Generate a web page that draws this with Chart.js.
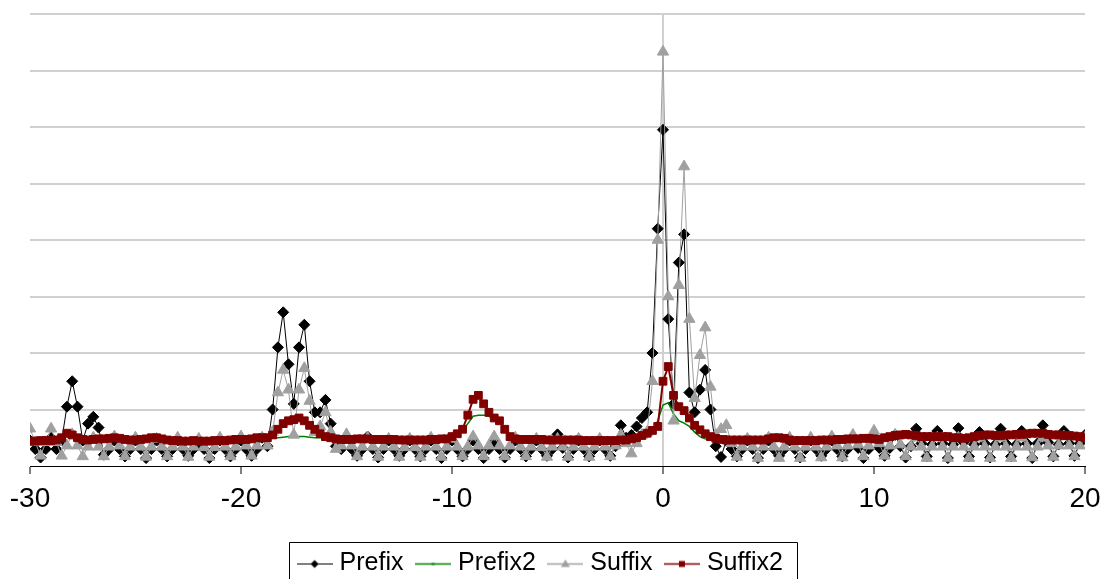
<!DOCTYPE html>
<html>
<head>
<meta charset="utf-8">
<script src="https://cdn.jsdelivr.net/npm/chart.js@4"></script>
<style>
  html, body { margin: 0; padding: 0; background: #fff; overflow: hidden; }
  #chart { display: block; }
</style>
</head>
<body>
<canvas id="chart" width="1102" height="590"></canvas>
<script>
// ===========================
// Data
// ===========================

const xValues = [
  -30,-29.75,-29.5,-29.25, -29,-28.75,-28.5,-28.25,
  -28,-27.75,-27.5,-27.25, -27,-26.75,-26.5,-26.25,
  -26,-25.75,-25.5,-25.25, -25,-24.75,-24.5,-24.25,
  -24,-23.75,-23.5,-23.25, -23,-22.75,-22.5,-22.25,
  -22,-21.75,-21.5,-21.25, -21,-20.75,-20.5,-20.25,
  -20,-19.75,-19.5,-19.25, -19,-18.75,-18.5,-18.25,
  -18,-17.75,-17.5,-17.25, -17,-16.75,-16.5,-16.25,
  -16,-15.75,-15.5,-15.25, -15,-14.75,-14.5,-14.25,
  -14,-13.75,-13.5,-13.25, -13,-12.75,-12.5,-12.25,
  -12,-11.75,-11.5,-11.25, -11,-10.75,-10.5,-10.25,
  -10,-9.75,-9.5,-9.25, -9,-8.75,-8.5,-8.25,
  -8,-7.75,-7.5,-7.25, -7,-6.75,-6.5,-6.25,
  -6,-5.75,-5.5,-5.25, -5,-4.75,-4.5,-4.25,
  -4,-3.75,-3.5,-3.25, -3,-2.75,-2.5,-2.25,
  -2,-1.75,-1.5,-1.25, -1,-0.75,-0.5,-0.25,
  0,0.25,0.5,0.75, 1,1.25,1.5,1.75,
  2,2.25,2.5,2.75, 3,3.25,3.5,3.75,
  4,4.25,4.5,4.75, 5,5.25,5.5,5.75,
  6,6.25,6.5,6.75, 7,7.25,7.5,7.75,
  8,8.25,8.5,8.75, 9,9.25,9.5,9.75,
  10,10.25,10.5,10.75, 11,11.25,11.5,11.75,
  12,12.25,12.5,12.75, 13,13.25,13.5,13.75,
  14,14.25,14.5,14.75, 15,15.25,15.5,15.75,
  16,16.25,16.5,16.75, 17,17.25,17.5,17.75,
  18,18.25,18.5,18.75, 19,19.25,19.5,19.75,
  20
];

const prefix = [
  0.45,0.3,0.15,0.3, 0.5,0.3,0.45,1.05,
  1.5,1.05,0.45,0.75, 0.87,0.68,0.2,0.3,
  0.45,0.3,0.17,0.3, 0.45,0.3,0.14,0.3,
  0.45,0.3,0.17,0.3, 0.45,0.3,0.18,0.3,
  0.42,0.3,0.14,0.3, 0.45,0.3,0.17,0.3,
  0.45,0.3,0.18,0.3, 0.5,0.35,1.0,2.1,
  2.72,1.8,1.1,2.1, 2.5,1.5,0.95,0.95,
  1.17,0.75,0.35,0.3, 0.5,0.3,0.18,0.3,
  0.52,0.3,0.15,0.3, 0.45,0.3,0.18,0.3,
  0.45,0.3,0.17,0.3, 0.45,0.3,0.14,0.3,
  0.45,0.3,0.17,0.3, 0.45,0.3,0.14,0.3,
  0.42,0.3,0.15,0.3, 0.45,0.3,0.17,0.3,
  0.45,0.3,0.18,0.3, 0.56,0.32,0.15,0.3,
  0.45,0.3,0.17,0.3, 0.45,0.3,0.18,0.35,
  0.72,0.5,0.55,0.7, 0.85,0.95,2.0,4.2,
  5.95,2.6,1.1,3.6, 4.1,1.3,0.95,1.35,
  1.7,1.0,0.35,0.16, 0.45,0.3,0.17,0.3,
  0.45,0.3,0.14,0.3, 0.45,0.3,0.18,0.3,
  0.45,0.3,0.15,0.3, 0.45,0.3,0.18,0.3,
  0.45,0.3,0.17,0.3, 0.5,0.32,0.14,0.3,
  0.5,0.32,0.18,0.32, 0.55,0.35,0.15,0.35,
  0.66,0.4,0.17,0.38, 0.62,0.4,0.14,0.38,
  0.67,0.42,0.17,0.38, 0.6,0.4,0.15,0.38,
  0.66,0.4,0.17,0.38, 0.62,0.4,0.14,0.4,
  0.72,0.42,0.17,0.38, 0.62,0.4,0.18,0.4,
  0.55
];

const prefix2 = [
  0.42,0.43,0.44,0.44, 0.44,0.45,0.48,0.52,
  0.5,0.48,0.46,0.45, 0.46,0.47,0.47,0.48,
  0.48,0.47,0.46,0.45, 0.45,0.46,0.47,0.48,
  0.48,0.47,0.45,0.44, 0.44,0.44,0.44,0.44,
  0.44,0.44,0.45,0.46, 0.46,0.46,0.46,0.46,
  0.46,0.47,0.47,0.48, 0.48,0.48,0.49,0.5,
  0.51,0.52,0.52,0.52, 0.52,0.51,0.5,0.5,
  0.5,0.49,0.49,0.5, 0.5,0.5,0.5,0.5,
  0.5,0.5,0.5,0.5, 0.5,0.5,0.49,0.49,
  0.48,0.48,0.48,0.48, 0.49,0.5,0.52,0.54,
  0.56,0.58,0.62,0.75, 0.88,0.9,0.9,0.88,
  0.83,0.78,0.65,0.52, 0.48,0.47,0.47,0.46,
  0.46,0.46,0.46,0.46, 0.46,0.46,0.45,0.45,
  0.45,0.45,0.45,0.45, 0.45,0.45,0.45,0.45,
  0.45,0.45,0.46,0.48, 0.52,0.57,0.62,0.8,
  1.08,1.12,0.92,0.8, 0.76,0.7,0.6,0.52,
  0.48,0.46,0.45,0.45, 0.45,0.45,0.45,0.45,
  0.45,0.45,0.45,0.45, 0.46,0.47,0.47,0.46,
  0.45,0.45,0.45,0.45, 0.45,0.45,0.45,0.45,
  0.45,0.45,0.46,0.46, 0.46,0.46,0.47,0.47,
  0.46,0.46,0.47,0.48, 0.5,0.51,0.52,0.52,
  0.5,0.5,0.5,0.5, 0.5,0.49,0.49,0.48,
  0.48,0.48,0.49,0.5, 0.51,0.52,0.52,0.52,
  0.52,0.52,0.53,0.53, 0.53,0.54,0.55,0.55,
  0.55,0.54,0.53,0.53, 0.52,0.52,0.51,0.5,
  0.48
];

const suffix = [
  0.66,0.42,0.18,0.42, 0.66,0.42,0.18,0.36,
  0.56,0.36,0.17,0.34, 0.5,0.34,0.17,0.34,
  0.52,0.36,0.17,0.34, 0.5,0.34,0.16,0.34,
  0.48,0.34,0.17,0.34, 0.5,0.34,0.16,0.34,
  0.48,0.33,0.16,0.33, 0.5,0.34,0.17,0.34,
  0.52,0.36,0.18,0.36, 0.5,0.36,0.6,1.3,
  1.7,1.35,0.55,1.35, 1.73,1.15,0.6,0.7,
  0.95,0.6,0.3,0.36, 0.56,0.36,0.17,0.34,
  0.5,0.34,0.16,0.34, 0.48,0.34,0.16,0.33,
  0.48,0.33,0.16,0.34, 0.5,0.34,0.16,0.34,
  0.48,0.34,0.17,0.34, 0.52,0.36,0.17,0.36,
  0.52,0.36,0.17,0.36, 0.5,0.34,0.17,0.34,
  0.48,0.33,0.16,0.34, 0.48,0.34,0.16,0.34,
  0.48,0.34,0.16,0.34, 0.48,0.34,0.17,0.36,
  0.55,0.4,0.22,0.4, 0.55,0.6,1.5,4.0,
  7.33,3.0,0.8,3.2, 5.3,2.6,1.2,1.96,
  2.45,1.4,0.55,0.65, 0.72,0.4,0.16,0.34,
  0.48,0.34,0.14,0.34, 0.5,0.34,0.14,0.34,
  0.5,0.34,0.14,0.34, 0.5,0.34,0.15,0.34,
  0.52,0.36,0.15,0.36, 0.55,0.38,0.17,0.36,
  0.62,0.4,0.18,0.36, 0.55,0.38,0.17,0.34,
  0.5,0.34,0.14,0.34, 0.5,0.34,0.14,0.34,
  0.5,0.34,0.14,0.34, 0.5,0.34,0.14,0.34,
  0.5,0.34,0.14,0.34, 0.5,0.34,0.15,0.34,
  0.5,0.36,0.16,0.36, 0.52,0.36,0.17,0.36,
  0.5
];

const suffix2 = [
  0.44,0.44,0.45,0.45, 0.45,0.46,0.5,0.58,
  0.55,0.5,0.47,0.46, 0.47,0.48,0.48,0.49,
  0.5,0.49,0.47,0.46, 0.46,0.47,0.48,0.5,
  0.5,0.48,0.46,0.45, 0.45,0.44,0.44,0.45,
  0.44,0.44,0.44,0.45, 0.45,0.45,0.46,0.47,
  0.47,0.47,0.48,0.5, 0.5,0.5,0.55,0.65,
  0.75,0.8,0.82,0.85, 0.8,0.72,0.65,0.57,
  0.52,0.5,0.48,0.47, 0.47,0.47,0.48,0.48,
  0.48,0.47,0.47,0.47, 0.47,0.47,0.46,0.46,
  0.46,0.46,0.46,0.46, 0.47,0.47,0.48,0.48,
  0.52,0.57,0.65,0.9, 1.18,1.25,1.1,0.95,
  0.85,0.8,0.65,0.52, 0.48,0.47,0.47,0.47,
  0.47,0.47,0.46,0.46, 0.46,0.46,0.46,0.46,
  0.46,0.45,0.45,0.45, 0.45,0.45,0.45,0.45,
  0.46,0.46,0.48,0.5, 0.54,0.58,0.63,0.7,
  1.5,1.76,1.25,1.05, 0.98,0.85,0.72,0.64,
  0.57,0.52,0.49,0.47, 0.46,0.46,0.46,0.46,
  0.46,0.46,0.46,0.46, 0.48,0.5,0.5,0.49,
  0.46,0.45,0.45,0.45, 0.45,0.45,0.46,0.46,
  0.46,0.47,0.47,0.48, 0.48,0.48,0.49,0.49,
  0.48,0.47,0.5,0.52, 0.54,0.55,0.56,0.55,
  0.54,0.52,0.52,0.52, 0.52,0.52,0.52,0.5,
  0.5,0.49,0.5,0.52, 0.54,0.55,0.55,0.54,
  0.54,0.55,0.55,0.56, 0.56,0.57,0.58,0.58,
  0.58,0.56,0.55,0.55, 0.54,0.54,0.53,0.52,
  0.5
];

const seriesNames = ['Prefix', 'Prefix2', 'Suffix', 'Suffix2'];
const xTicks = [-30, -20, -10, 0, 10, 20];

// ===========================
// Helpers
// ===========================

const FONT = "'Liberation Sans', Arial, sans-serif";
const GRID = '#d0d0d0';

function toPoints(ys) {
    return ys.map((y, i) => ({ x: xValues[i], y: y }));
}

/**
 * Legend symbol: short line with the marker in the middle (Excel style)
 */
function makeSymbol(color, lineWidth, marker) {
    const c = document.createElement('canvas');
    c.width = 36;
    c.height = 14;
    const g = c.getContext('2d');
    g.strokeStyle = color;
    g.fillStyle = color;
    g.lineWidth = lineWidth;
    g.beginPath();
    g.moveTo(0, 7.5);
    g.lineTo(36, 7.5);
    g.stroke();
    g.beginPath();
    if (marker === 'diamond') {
        g.moveTo(18, 3.5); g.lineTo(22, 7.5); g.lineTo(18, 11.5); g.lineTo(14, 7.5);
    } else if (marker === 'triangle') {
        g.moveTo(18, 3); g.lineTo(22.5, 10.5); g.lineTo(13.5, 10.5);
    } else if (marker === 'square') {
        g.rect(15, 4.5, 6, 6);
    } else if (marker === 'dash') {
        g.rect(16.5, 6.5, 3, 2);
    }
    g.closePath();
    g.fill();
    return c;
}

const symbols = [
    makeSymbol('#000000', 1, 'diamond'),
    makeSymbol('#008000', 1.5, 'dash'),
    makeSymbol('#a0a0a0', 1.5, 'triangle'),
    makeSymbol('#800000', 1.5, 'square')
];

// Excel-like box round the legend
const legendBox = {
    id: 'legendBox',
    afterDraw(chart) {
        const boxes = chart.legend && chart.legend.legendHitBoxes;
        if (!boxes || !boxes.length) return;
        const first = boxes[0];
        const last = boxes[boxes.length - 1];
        const left = Math.round(first.left - 13) + 0.5;
        const right = Math.round(last.left + last.width + 14) + 0.5;
        const top = Math.round(first.top + first.height / 2 - 22) + 0.5;
        const bottom = chart.height + 5;
        const ctx = chart.ctx;
        ctx.save();
        ctx.strokeStyle = '#000';
        ctx.lineWidth = 1;
        ctx.beginPath();
        ctx.moveTo(left, bottom);
        ctx.lineTo(left, top);
        ctx.lineTo(right, top);
        ctx.lineTo(right, bottom);
        ctx.stroke();
        ctx.restore();
    }
};

// ===========================
// Chart
// ===========================

new Chart(document.getElementById('chart'), {
    type: 'line',
    data: {
        datasets: [
            {
                label: seriesNames[0],
                data: toPoints(prefix),
                order: 4,
                borderColor: '#000000',
                backgroundColor: '#000000',
                borderWidth: 1,
                pointStyle: 'rectRot',
                pointRadius: 5.5,
                pointBorderWidth: 1
            },
            {
                label: seriesNames[1],
                data: toPoints(prefix2),
                order: 3,
                borderColor: '#008000',
                backgroundColor: '#008000',
                borderWidth: 1.5,
                pointRadius: 0
            },
            {
                label: seriesNames[2],
                data: toPoints(suffix),
                order: 2,
                borderColor: '#a0a0a0',
                backgroundColor: '#a0a0a0',
                borderWidth: 1,
                pointStyle: 'triangle',
                pointRadius: 6.5,
                pointBorderWidth: 1
            },
            {
                label: seriesNames[3],
                data: toPoints(suffix2),
                order: 1,
                borderColor: '#800000',
                backgroundColor: '#800000',
                borderWidth: 2,
                pointStyle: 'rect',
                pointRadius: 5.5,
                pointBorderWidth: 1
            }
        ]
    },
    options: {
        responsive: false,
        animation: false,
        devicePixelRatio: 1,
        layout: { padding: { left: 0, right: 17, top: 14, bottom: 4 } },
        plugins: {
            tooltip: { enabled: false },
            legend: {
                position: 'bottom',
                labels: {
                    usePointStyle: true,
                    pointStyleWidth: 25,
                    padding: 17,
                    color: '#000',
                    font: { family: FONT, size: 25 },
                    sort: (a, b) => a.datasetIndex - b.datasetIndex,
                    generateLabels(chart) {
                        const items = Chart.defaults.plugins.legend.labels.generateLabels(chart);
                        return items.map(it => Object.assign(it, { pointStyle: symbols[it.datasetIndex] }));
                    }
                }
            }
        },
        scales: {
            x: {
                type: 'linear',
                min: -30,
                max: 20,
                afterBuildTicks: s => { s.ticks = xTicks.map(v => ({ value: v })); },
                afterFit: s => {
                    s.height = 68;
                    s.paddingLeft = 0;
                    s.paddingRight = 0;
                },
                border: { display: true, color: '#000', width: 1 },
                grid: {
                    color: c => (c.tick && c.tick.value === 0 ? GRID : 'rgba(0,0,0,0)'),
                    lineWidth: 2,
                    tickColor: '#000',
                    tickLength: 8,
                    tickWidth: 1
                },
                ticks: {
                    color: '#000',
                    padding: 8,
                    maxRotation: 0,
                    autoSkip: false,
                    font: { family: FONT, size: 28 }
                }
            },
            y: {
                min: 0,
                max: 8,
                afterFit: s => { s.width = 30; },
                border: { display: false },
                grid: {
                    color: c => (c.tick && c.tick.value === 0 ? 'rgba(0,0,0,0)' : GRID),
                    lineWidth: 2,
                    drawTicks: false
                },
                ticks: { display: false, stepSize: 1 }
            }
        }
    },
    plugins: [legendBox]
});
</script>
</body>
</html>
